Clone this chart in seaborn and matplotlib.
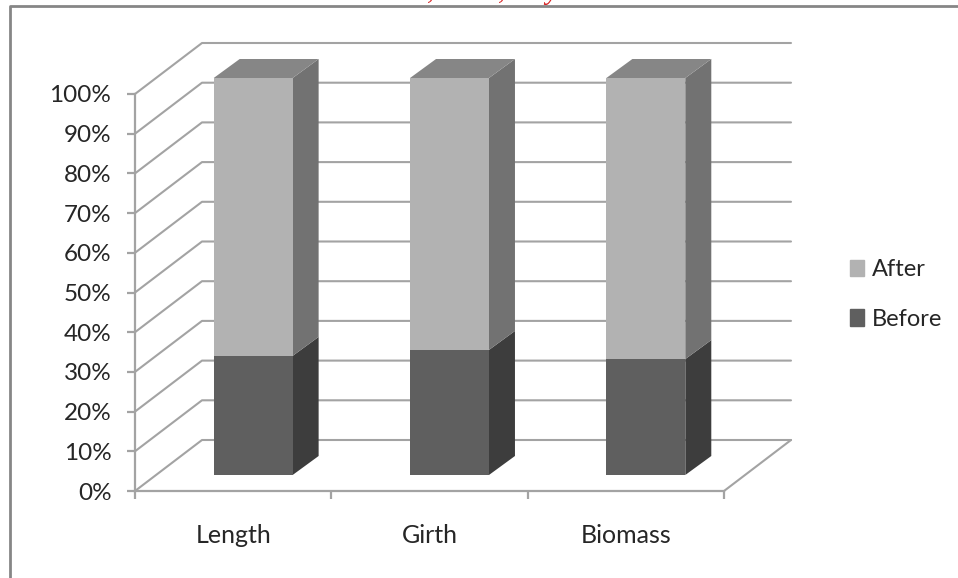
# -*- coding: utf-8 -*-
import matplotlib
matplotlib.use('Agg')
import matplotlib.pyplot as plt
from matplotlib.lines import Line2D
from matplotlib.patches import Patch
from matplotlib.transforms import Affine2D
import pandas as pd
import seaborn as sns

categories = ['Length', 'Girth', 'Biomass']
before = [30, 31.5, 29.2]
after = [70, 68.5, 70.8]
yticks = list(range(0, 101, 10))
# header is cut off at the top edge of the picture, wording is a guess
cut_header = 'Vol. 100, Issue, July 2011'

# colours of the pseudo 3d faces
after_front, after_side, after_top = '#b2b2b2', '#727272', '#868686'
before_front, before_side = '#5f5f5f', '#3d3d3d'
line_col = '#a3a3a3'
text_col = '#262626'

sns.set_theme(style='white')
plt.rcParams['font.family'] = ['Lato', 'DejaVu Sans']

W, H = 958, 578
fig = plt.figure(figsize=(W / 100, H / 100), dpi=100)
ax = fig.add_axes([135 / W, (H - 491) / H, 589 / W, 397 / H])

df = pd.DataFrame({'cat': categories, 'before': before, 'after': after})
df['total'] = df['before'] + df['after']

# stacked: total first, before on top of it
sns.barplot(data=df, x='cat', y='total', order=categories, color=after_front,
            saturation=1, width=0.402, ax=ax, zorder=4)
sns.barplot(data=df, x='cat', y='before', order=categories, color=before_front,
            saturation=1, width=0.402, ax=ax, zorder=4)
ax.set_xlim(-0.5, 2.5)
ax.set_ylim(0, 100)

# depth vector in data units (floor is 67px x 51px deep)
px_x = 3 / 589
px_y = 100 / 397
wall_dx, wall_dy = 67 * px_x, 51 * px_y
bar_dx, bar_dy = 20 * px_x, 16 * px_y
side_dx, side_dy = 26 * px_x, 19 * px_y

# walls and gridlines
for v in yticks:
    ax.plot([-0.5, -0.5 + wall_dx, 2.5 + wall_dx],
            [v, v + wall_dy, v + wall_dy],
            color=line_col, lw=1.5, clip_on=False, zorder=1)
ax.plot([2.5, 2.5 + wall_dx], [0, wall_dy], color=line_col, lw=1.5, clip_on=False, zorder=1)

# move the bars to mid depth, then add side and top faces
shift = Affine2D().translate(bar_dx, bar_dy) + ax.transData
for p in ax.patches:
    p.set_transform(shift)
    p.set_clip_on(False)
    p.set_linewidth(0)

for i, cat in enumerate(categories):
    x1 = i + 0.201 + bar_dx
    x0 = i - 0.201 + bar_dx
    b = before[i] + bar_dy
    t = before[i] + after[i] + bar_dy
    ax.fill([x1, x1 + side_dx, x1 + side_dx, x1],
            [bar_dy, bar_dy + side_dy, b + side_dy, b],
            color=before_side, lw=0, clip_on=False, zorder=3)
    ax.fill([x1, x1 + side_dx, x1 + side_dx, x1],
            [b, b + side_dy, t + side_dy, t],
            color=after_side, lw=0, clip_on=False, zorder=3)
    ax.fill([x0, x1, x1 + side_dx, x0 + side_dx],
            [t, t, t + side_dy, t + side_dy],
            color=after_top, lw=0, clip_on=False, zorder=3)

sns.despine(ax=ax)
for s in ['left', 'bottom']:
    ax.spines[s].set_color(line_col)
    ax.spines[s].set_linewidth(1.6)
ax.set_xlabel('')
ax.set_ylabel('')
ax.set_yticks(yticks)
ax.set_yticklabels(['%d%%' % v for v in yticks])
ax.set_xticks([-0.5, 0.5, 1.5, 2.5], minor=True)
ax.set_xticks(range(3))
ax.set_xticklabels(categories)
ax.tick_params(axis='y', left=True, length=6, width=1.6, color=line_col, labelsize=17.5,
               labelcolor=text_col, pad=11)
ax.tick_params(axis='x', which='major', bottom=False, labelsize=18, labelcolor=text_col, pad=18)
ax.tick_params(axis='x', which='minor', bottom=True, length=6, width=1.6, color=line_col)

# legend
handles = [Patch(color=after_front, label='After'), Patch(color=before_front, label='Before')]
fig.legend(handles=handles, loc='center left', bbox_to_anchor=(850 / W, 1 - 294.5 / H), frameon=False,
           fontsize=17, labelcolor=text_col, handlelength=0.6, handleheight=0.68,
           handletextpad=0.34, labelspacing=1.2, borderpad=0, borderaxespad=0)

# frame of the picture
fig.add_artist(Line2D([9.5 / W, 9.5 / W, 1], [0, 1 - 6.3 / H, 1 - 6.3 / H], color='#868686', lw=2))
fig.text(478 / W, 1 + 1 / H, cut_header, color='#d62020', ha='center', va='baseline',
         family='Liberation Serif', style='italic', fontsize=20)

fig.savefig('out.png', dpi=100)
